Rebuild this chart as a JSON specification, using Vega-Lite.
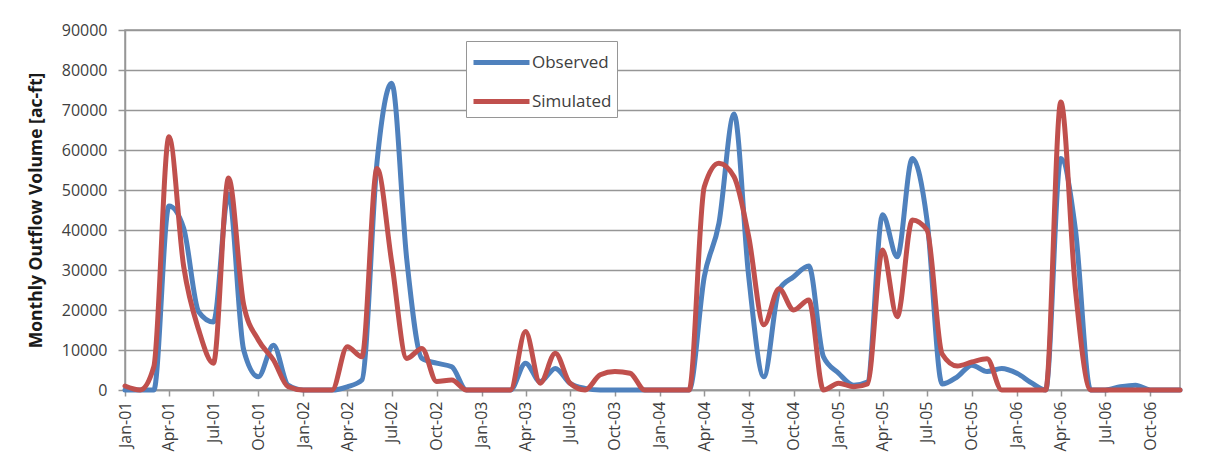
{
  "$schema": "https://vega.github.io/schema/vega-lite/v6.json",
  "autosize": {"type": "none"},
  "padding": {"left": 125, "top": 30, "right": 26, "bottom": 76},
  "width": 1055,
  "height": 360,
  "background": "white",
  "config": {
    "view": {"stroke": "#969696", "strokeWidth": 1.5},
    "font": "Open Sans",
    "axis": {
      "labelFont": "Open Sans",
      "labelFontSize": 16,
      "labelColor": "#404040",
      "domainColor": "#969696",
      "domainWidth": 1.5,
      "tickColor": "#969696",
      "tickWidth": 1.5,
      "gridColor": "#969696",
      "gridWidth": 1.5
    }
  },
  "data": {
    "values": [
      {"date": "2001-01-01", "series": "Observed", "value": 0},
      {"date": "2001-02-01", "series": "Observed", "value": 0},
      {"date": "2001-03-01", "series": "Observed", "value": 0},
      {"date": "2001-04-01", "series": "Observed", "value": 46000},
      {"date": "2001-05-01", "series": "Observed", "value": 40500},
      {"date": "2001-06-01", "series": "Observed", "value": 19500},
      {"date": "2001-07-01", "series": "Observed", "value": 17000},
      {"date": "2001-08-01", "series": "Observed", "value": 49000},
      {"date": "2001-09-01", "series": "Observed", "value": 10000},
      {"date": "2001-10-01", "series": "Observed", "value": 3300},
      {"date": "2001-11-01", "series": "Observed", "value": 11200},
      {"date": "2001-12-01", "series": "Observed", "value": 1200},
      {"date": "2002-01-01", "series": "Observed", "value": 0},
      {"date": "2002-02-01", "series": "Observed", "value": 0},
      {"date": "2002-03-01", "series": "Observed", "value": 0},
      {"date": "2002-04-01", "series": "Observed", "value": 800},
      {"date": "2002-05-01", "series": "Observed", "value": 2500},
      {"date": "2002-06-01", "series": "Observed", "value": 57000},
      {"date": "2002-07-01", "series": "Observed", "value": 76700},
      {"date": "2002-08-01", "series": "Observed", "value": 32500},
      {"date": "2002-09-01", "series": "Observed", "value": 7900},
      {"date": "2002-10-01", "series": "Observed", "value": 6700},
      {"date": "2002-11-01", "series": "Observed", "value": 5800},
      {"date": "2002-12-01", "series": "Observed", "value": 0},
      {"date": "2003-01-01", "series": "Observed", "value": 0},
      {"date": "2003-02-01", "series": "Observed", "value": 0},
      {"date": "2003-03-01", "series": "Observed", "value": 0},
      {"date": "2003-04-01", "series": "Observed", "value": 6700},
      {"date": "2003-05-01", "series": "Observed", "value": 2100},
      {"date": "2003-06-01", "series": "Observed", "value": 5400},
      {"date": "2003-07-01", "series": "Observed", "value": 1700},
      {"date": "2003-08-01", "series": "Observed", "value": 400},
      {"date": "2003-09-01", "series": "Observed", "value": 0},
      {"date": "2003-10-01", "series": "Observed", "value": 0},
      {"date": "2003-11-01", "series": "Observed", "value": 0},
      {"date": "2003-12-01", "series": "Observed", "value": 0},
      {"date": "2004-01-01", "series": "Observed", "value": 0},
      {"date": "2004-02-01", "series": "Observed", "value": 0},
      {"date": "2004-03-01", "series": "Observed", "value": 0},
      {"date": "2004-04-01", "series": "Observed", "value": 28300},
      {"date": "2004-05-01", "series": "Observed", "value": 41700},
      {"date": "2004-06-01", "series": "Observed", "value": 69000},
      {"date": "2004-07-01", "series": "Observed", "value": 28300},
      {"date": "2004-08-01", "series": "Observed", "value": 3300},
      {"date": "2004-09-01", "series": "Observed", "value": 25000},
      {"date": "2004-10-01", "series": "Observed", "value": 28300},
      {"date": "2004-11-01", "series": "Observed", "value": 31000},
      {"date": "2004-12-01", "series": "Observed", "value": 8300},
      {"date": "2005-01-01", "series": "Observed", "value": 4200},
      {"date": "2005-02-01", "series": "Observed", "value": 1200},
      {"date": "2005-03-01", "series": "Observed", "value": 2000},
      {"date": "2005-04-01", "series": "Observed", "value": 43800},
      {"date": "2005-05-01", "series": "Observed", "value": 33300},
      {"date": "2005-06-01", "series": "Observed", "value": 57900},
      {"date": "2005-07-01", "series": "Observed", "value": 42500},
      {"date": "2005-08-01", "series": "Observed", "value": 1500},
      {"date": "2005-09-01", "series": "Observed", "value": 3300},
      {"date": "2005-10-01", "series": "Observed", "value": 6200},
      {"date": "2005-11-01", "series": "Observed", "value": 4600},
      {"date": "2005-12-01", "series": "Observed", "value": 5400},
      {"date": "2006-01-01", "series": "Observed", "value": 4200},
      {"date": "2006-02-01", "series": "Observed", "value": 1700},
      {"date": "2006-03-01", "series": "Observed", "value": 0},
      {"date": "2006-04-01", "series": "Observed", "value": 57900},
      {"date": "2006-05-01", "series": "Observed", "value": 40000},
      {"date": "2006-06-01", "series": "Observed", "value": 0},
      {"date": "2006-07-01", "series": "Observed", "value": 0},
      {"date": "2006-08-01", "series": "Observed", "value": 800},
      {"date": "2006-09-01", "series": "Observed", "value": 1200},
      {"date": "2006-10-01", "series": "Observed", "value": 0},
      {"date": "2006-11-01", "series": "Observed", "value": 0},
      {"date": "2006-12-01", "series": "Observed", "value": 0},
      {"date": "2001-01-01", "series": "Simulated", "value": 1000},
      {"date": "2001-02-01", "series": "Simulated", "value": 0},
      {"date": "2001-03-01", "series": "Simulated", "value": 5800},
      {"date": "2001-04-01", "series": "Simulated", "value": 63300},
      {"date": "2001-05-01", "series": "Simulated", "value": 31000},
      {"date": "2001-06-01", "series": "Simulated", "value": 15000},
      {"date": "2001-07-01", "series": "Simulated", "value": 6700},
      {"date": "2001-08-01", "series": "Simulated", "value": 53000},
      {"date": "2001-09-01", "series": "Simulated", "value": 21300},
      {"date": "2001-10-01", "series": "Simulated", "value": 12500},
      {"date": "2001-11-01", "series": "Simulated", "value": 7500},
      {"date": "2001-12-01", "series": "Simulated", "value": 800},
      {"date": "2002-01-01", "series": "Simulated", "value": 0},
      {"date": "2002-02-01", "series": "Simulated", "value": 0},
      {"date": "2002-03-01", "series": "Simulated", "value": 0},
      {"date": "2002-04-01", "series": "Simulated", "value": 10800},
      {"date": "2002-05-01", "series": "Simulated", "value": 8300},
      {"date": "2002-06-01", "series": "Simulated", "value": 55400},
      {"date": "2002-07-01", "series": "Simulated", "value": 32000},
      {"date": "2002-08-01", "series": "Simulated", "value": 7900},
      {"date": "2002-09-01", "series": "Simulated", "value": 10400},
      {"date": "2002-10-01", "series": "Simulated", "value": 2100},
      {"date": "2002-11-01", "series": "Simulated", "value": 2500},
      {"date": "2002-12-01", "series": "Simulated", "value": 0},
      {"date": "2003-01-01", "series": "Simulated", "value": 0},
      {"date": "2003-02-01", "series": "Simulated", "value": 0},
      {"date": "2003-03-01", "series": "Simulated", "value": 0},
      {"date": "2003-04-01", "series": "Simulated", "value": 14600},
      {"date": "2003-05-01", "series": "Simulated", "value": 1700},
      {"date": "2003-06-01", "series": "Simulated", "value": 9200},
      {"date": "2003-07-01", "series": "Simulated", "value": 1700},
      {"date": "2003-08-01", "series": "Simulated", "value": 0},
      {"date": "2003-09-01", "series": "Simulated", "value": 3800},
      {"date": "2003-10-01", "series": "Simulated", "value": 4600},
      {"date": "2003-11-01", "series": "Simulated", "value": 4200},
      {"date": "2003-12-01", "series": "Simulated", "value": 0},
      {"date": "2004-01-01", "series": "Simulated", "value": 0},
      {"date": "2004-02-01", "series": "Simulated", "value": 0},
      {"date": "2004-03-01", "series": "Simulated", "value": 0},
      {"date": "2004-04-01", "series": "Simulated", "value": 50800},
      {"date": "2004-05-01", "series": "Simulated", "value": 56700},
      {"date": "2004-06-01", "series": "Simulated", "value": 53300},
      {"date": "2004-07-01", "series": "Simulated", "value": 38300},
      {"date": "2004-08-01", "series": "Simulated", "value": 16300},
      {"date": "2004-09-01", "series": "Simulated", "value": 25300},
      {"date": "2004-10-01", "series": "Simulated", "value": 20000},
      {"date": "2004-11-01", "series": "Simulated", "value": 22500},
      {"date": "2004-12-01", "series": "Simulated", "value": 0},
      {"date": "2005-01-01", "series": "Simulated", "value": 1700},
      {"date": "2005-02-01", "series": "Simulated", "value": 800},
      {"date": "2005-03-01", "series": "Simulated", "value": 1500},
      {"date": "2005-04-01", "series": "Simulated", "value": 35000},
      {"date": "2005-05-01", "series": "Simulated", "value": 18300},
      {"date": "2005-06-01", "series": "Simulated", "value": 42500},
      {"date": "2005-07-01", "series": "Simulated", "value": 40000},
      {"date": "2005-08-01", "series": "Simulated", "value": 9000},
      {"date": "2005-09-01", "series": "Simulated", "value": 6000},
      {"date": "2005-10-01", "series": "Simulated", "value": 7000},
      {"date": "2005-11-01", "series": "Simulated", "value": 7800},
      {"date": "2005-12-01", "series": "Simulated", "value": 0},
      {"date": "2006-01-01", "series": "Simulated", "value": 0},
      {"date": "2006-02-01", "series": "Simulated", "value": 0},
      {"date": "2006-03-01", "series": "Simulated", "value": 0},
      {"date": "2006-04-01", "series": "Simulated", "value": 72000},
      {"date": "2006-05-01", "series": "Simulated", "value": 25000},
      {"date": "2006-06-01", "series": "Simulated", "value": 0},
      {"date": "2006-07-01", "series": "Simulated", "value": 0},
      {"date": "2006-08-01", "series": "Simulated", "value": 0},
      {"date": "2006-09-01", "series": "Simulated", "value": 0},
      {"date": "2006-10-01", "series": "Simulated", "value": 0},
      {"date": "2006-11-01", "series": "Simulated", "value": 0},
      {"date": "2006-12-01", "series": "Simulated", "value": 0}
    ]
  },
  "mark": {"type": "line", "interpolate": "monotone", "strokeWidth": 5, "strokeCap": "round", "strokeJoin": "round"},
  "encoding": {
    "x": {
      "field": "date",
      "type": "temporal",
      "scale": {"type": "utc", "domain": ["2001-01-01", "2006-12-01"], "nice": false},
      "axis": {
        "title": null,
        "labelExpr": "utcFormat(datum.value, '%b-%y')",
        "tickCount": {"interval": "month", "step": 3},
        "labelAngle": -90,
        "labelPadding": 5,
        "tickSize": 6,
        "grid": false,
        "labelOverlap": false
      }
    },
    "y": {
      "field": "value",
      "type": "quantitative",
      "scale": {"domain": [0, 90000], "nice": false},
      "axis": {
        "title": "Monthly Outflow Volume [ac-ft]",
        "titleFont": "Open Sans",
        "titleFontSize": 17.5,
        "titleFontWeight": "bold",
        "titleColor": "#1a1a1a",
        "titlePadding": 16,
        "values": [0, 10000, 20000, 30000, 40000, 50000, 60000, 70000, 80000, 90000],
        "format": "d",
        "tickSize": 7,
        "labelPadding": 11,
        "grid": true
      }
    },
    "color": {
      "field": "series",
      "type": "nominal",
      "scale": {"domain": ["Observed", "Simulated"], "range": ["#4F81BD", "#C0504D"]},
      "legend": {
        "orient": "none",
        "legendX": 341,
        "legendY": 11,
        "title": null,
        "symbolType": "M-2,0H2",
        "symbolSize": 784,
        "symbolStrokeWidth": 5,
        "symbolOffset": 14,
        "labelFont": "Open Sans",
        "labelFontSize": 17,
        "labelColor": "#404040",
        "labelOffset": 14,
        "strokeColor": "#969696",
        "fillColor": "white",
        "padding": 5,
        "rowPadding": 12
      }
    }
  }
}
